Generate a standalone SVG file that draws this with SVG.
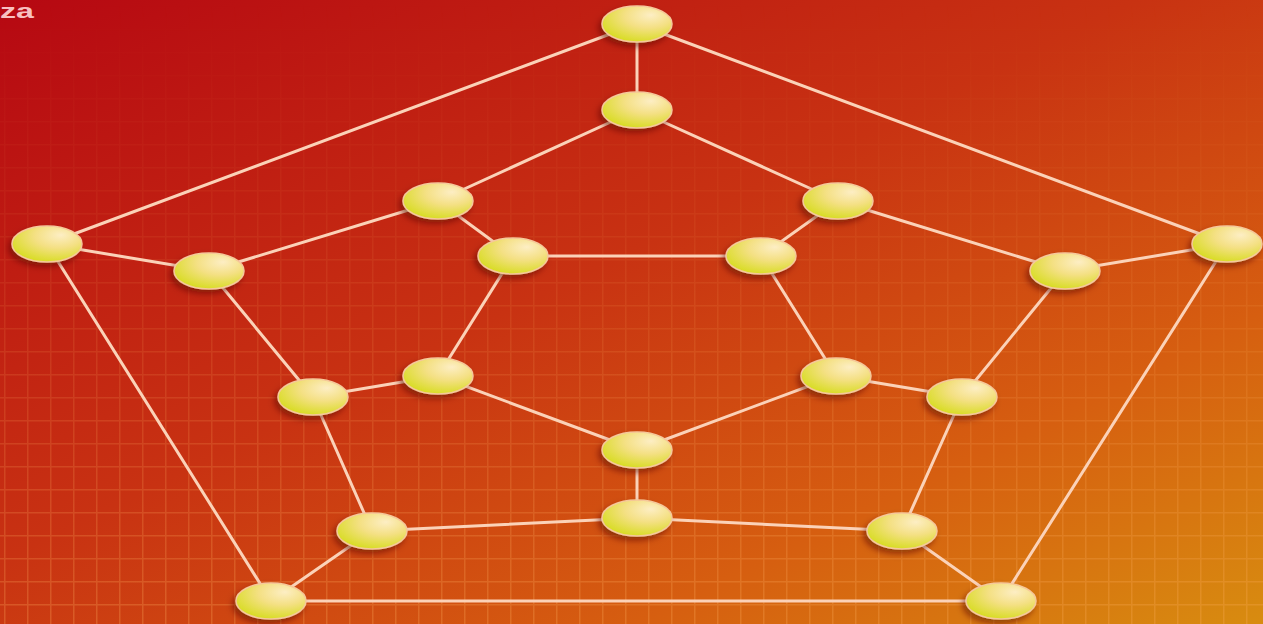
<svg xmlns="http://www.w3.org/2000/svg" width="1263" height="624" viewBox="0 0 1263 624">
  <defs>
    <linearGradient id="bg" x1="0" y1="0" x2="1" y2="1">
      <stop offset="0" stop-color="#b60812"/>
      <stop offset="0.45" stop-color="#c83212"/>
      <stop offset="0.75" stop-color="#d65e10"/>
      <stop offset="1" stop-color="#d88c10"/>
    </linearGradient>
    <linearGradient id="vfade" x1="0" y1="0" x2="0" y2="1">
      <stop offset="0" stop-color="#ffffff" stop-opacity="0"/>
      <stop offset="0.3" stop-color="#ffffff" stop-opacity="0.2"/>
      <stop offset="1" stop-color="#ffffff" stop-opacity="0.9"/>
    </linearGradient>
    <mask id="gridMask">
      <rect width="1263" height="624" fill="url(#vfade)"/>
    </mask>
    <pattern id="grid" width="23" height="23" patternUnits="userSpaceOnUse" x="4" y="6">
      <path d="M0 0.5H23M0.5 0V23" stroke="#ffb060" stroke-width="2" fill="none" stroke-opacity="0.3"/>
    </pattern>
    <radialGradient id="nodeFill" cx="0.62" cy="0.3" r="0.75" fx="0.7" fy="0.25">
      <stop offset="0" stop-color="#fdeec4"/>
      <stop offset="0.45" stop-color="#f4e084"/>
      <stop offset="1" stop-color="#d6dc1c"/>
    </radialGradient>
    <filter id="shadow" x="-40%" y="-40%" width="180%" height="200%">
      <feGaussianBlur in="SourceAlpha" stdDeviation="3"/>
      <feOffset dx="-3" dy="4" result="b"/>
      <feFlood flood-color="#5a1000" flood-opacity="0.55"/>
      <feComposite in2="b" operator="in"/>
      <feMerge><feMergeNode/><feMergeNode in="SourceGraphic"/></feMerge>
    </filter>
  </defs>
  <style>
    .edge { stroke: #fbd2b8; stroke-width: 3; stroke-linecap: round; }
    .node { fill: url(#nodeFill); stroke: #f6c89a; stroke-width: 1.5; filter: url(#shadow); }
    .lbl { font-family: "Liberation Sans", Arial, sans-serif; font-size: 20px; font-weight: bold; fill: #f8c0c0; }
  </style>
  <rect width="1263" height="624" fill="url(#bg)"/>
  <rect width="1263" height="624" fill="url(#grid)" mask="url(#gridMask)"/>
  <text class="lbl" x="0" y="18" textLength="34" lengthAdjust="spacingAndGlyphs">za</text>
  <g id="connectors">
    <line class="edge" x1="637" y1="24" x2="637" y2="110"/>
    <line class="edge" x1="637" y1="24" x2="47" y2="244"/>
    <line class="edge" x1="637" y1="24" x2="1227" y2="244"/>
    <line class="edge" x1="637" y1="110" x2="438" y2="201"/>
    <line class="edge" x1="637" y1="110" x2="838" y2="201"/>
    <line class="edge" x1="438" y1="201" x2="209" y2="271"/>
    <line class="edge" x1="438" y1="201" x2="513" y2="256"/>
    <line class="edge" x1="838" y1="201" x2="1065" y2="271"/>
    <line class="edge" x1="838" y1="201" x2="761" y2="256"/>
    <line class="edge" x1="47" y1="244" x2="209" y2="271"/>
    <line class="edge" x1="47" y1="244" x2="271" y2="601"/>
    <line class="edge" x1="1227" y1="244" x2="1065" y2="271"/>
    <line class="edge" x1="1227" y1="244" x2="1001" y2="601"/>
    <line class="edge" x1="209" y1="271" x2="313" y2="397"/>
    <line class="edge" x1="1065" y1="271" x2="962" y2="397"/>
    <line class="edge" x1="513" y1="256" x2="761" y2="256"/>
    <line class="edge" x1="513" y1="256" x2="438" y2="376"/>
    <line class="edge" x1="761" y1="256" x2="836" y2="376"/>
    <line class="edge" x1="313" y1="397" x2="438" y2="376"/>
    <line class="edge" x1="313" y1="397" x2="372" y2="531"/>
    <line class="edge" x1="962" y1="397" x2="836" y2="376"/>
    <line class="edge" x1="962" y1="397" x2="902" y2="531"/>
    <line class="edge" x1="438" y1="376" x2="637" y2="450"/>
    <line class="edge" x1="836" y1="376" x2="637" y2="450"/>
    <line class="edge" x1="637" y1="450" x2="637" y2="518"/>
    <line class="edge" x1="637" y1="518" x2="372" y2="531"/>
    <line class="edge" x1="637" y1="518" x2="902" y2="531"/>
    <line class="edge" x1="372" y1="531" x2="271" y2="601"/>
    <line class="edge" x1="902" y1="531" x2="1001" y2="601"/>
    <line class="edge" x1="271" y1="601" x2="1001" y2="601"/>
  </g>
  <g id="n1"><ellipse class="node" cx="637" cy="24" rx="35" ry="18"/></g>
  <g id="n2"><ellipse class="node" cx="637" cy="110" rx="35" ry="18"/></g>
  <g id="n3"><ellipse class="node" cx="438" cy="201" rx="35" ry="18"/></g>
  <g id="n4"><ellipse class="node" cx="838" cy="201" rx="35" ry="18"/></g>
  <g id="n5"><ellipse class="node" cx="47" cy="244" rx="35" ry="18"/></g>
  <g id="n6"><ellipse class="node" cx="1227" cy="244" rx="35" ry="18"/></g>
  <g id="n7"><ellipse class="node" cx="209" cy="271" rx="35" ry="18"/></g>
  <g id="n8"><ellipse class="node" cx="1065" cy="271" rx="35" ry="18"/></g>
  <g id="n9"><ellipse class="node" cx="513" cy="256" rx="35" ry="18"/></g>
  <g id="n10"><ellipse class="node" cx="761" cy="256" rx="35" ry="18"/></g>
  <g id="n11"><ellipse class="node" cx="313" cy="397" rx="35" ry="18"/></g>
  <g id="n12"><ellipse class="node" cx="962" cy="397" rx="35" ry="18"/></g>
  <g id="n13"><ellipse class="node" cx="438" cy="376" rx="35" ry="18"/></g>
  <g id="n14"><ellipse class="node" cx="836" cy="376" rx="35" ry="18"/></g>
  <g id="n15"><ellipse class="node" cx="637" cy="450" rx="35" ry="18"/></g>
  <g id="n16"><ellipse class="node" cx="637" cy="518" rx="35" ry="18"/></g>
  <g id="n17"><ellipse class="node" cx="372" cy="531" rx="35" ry="18"/></g>
  <g id="n18"><ellipse class="node" cx="902" cy="531" rx="35" ry="18"/></g>
  <g id="n19"><ellipse class="node" cx="271" cy="601" rx="35" ry="18"/></g>
  <g id="n20"><ellipse class="node" cx="1001" cy="601" rx="35" ry="18"/></g>
</svg>
